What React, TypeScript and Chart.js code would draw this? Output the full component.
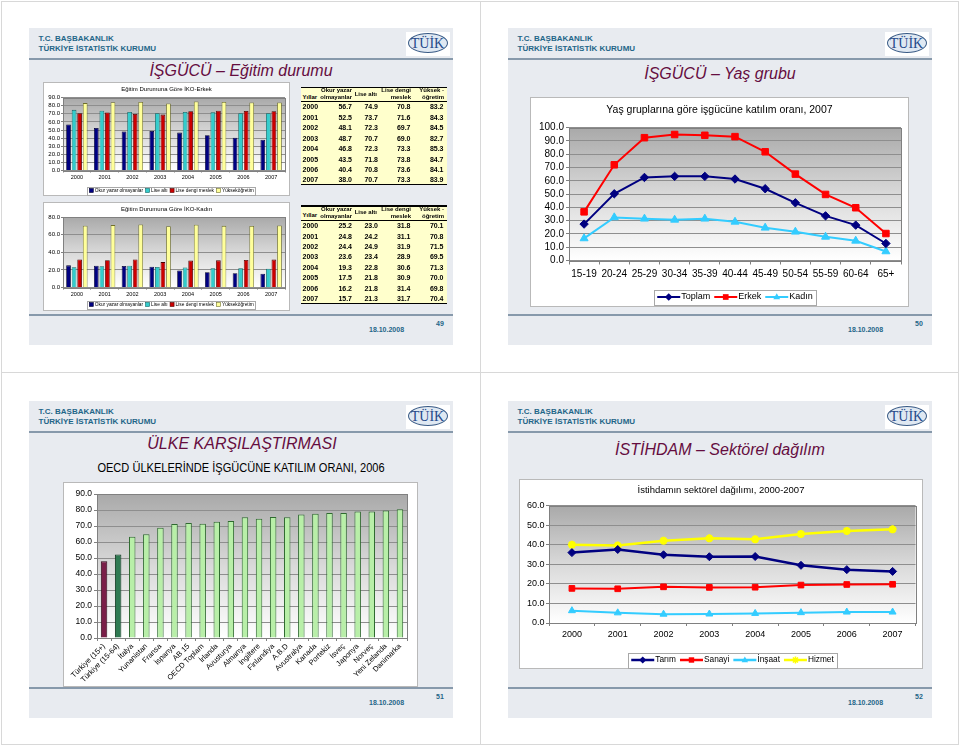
import React, { useEffect, useRef } from 'react';
import { Chart, registerables } from 'chart.js';

Chart.register(...registerables);

const SANS = "'Liberation Sans', Arial, Helvetica, sans-serif";
const SERIF = "'Liberation Serif', 'Times New Roman', serif";

// ---------------- data ----------------
const years = ['2000', '2001', '2002', '2003', '2004', '2005', '2006', '2007'];
const eduLevels = ['Okur yazar olmayanlar', 'Lise altı', 'Lise dengi meslek', 'Yükseköğretim'];

const maleIlliterate = [56.7, 52.5, 48.1, 48.7, 46.8, 43.5, 40.4, 38.0];
const maleBelowHigh = [74.9, 73.7, 72.3, 70.7, 72.3, 71.8, 70.8, 70.7];
const maleVocational = [70.8, 71.6, 69.7, 69.0, 73.3, 73.8, 73.6, 73.3];
const maleHigher = [83.2, 84.3, 84.5, 82.7, 85.3, 84.7, 84.1, 83.9];

const femaleIlliterate = [25.2, 24.8, 24.4, 23.6, 19.3, 17.5, 16.2, 15.7];
const femaleBelowHigh = [23.0, 24.2, 24.9, 23.4, 22.8, 21.8, 21.8, 21.3];
const femaleVocational = [31.8, 31.1, 31.9, 28.9, 30.6, 30.9, 31.4, 31.7];
const femaleHigher = [70.1, 70.8, 71.5, 69.5, 71.3, 70.0, 69.8, 70.4];

const ageGroups = ['15-19', '20-24', '25-29', '30-34', '35-39', '40-44', '45-49', '50-54', '55-59', '60-64', '65+'];
const ageSeries = ['Toplam', 'Erkek', 'Kadın'];
const ageTotal = [27.4, 50.2, 62.5, 63.3, 63.3, 61.3, 54.0, 43.4, 33.6, 26.6, 12.8];
const ageMale = [36.6, 72.0, 92.4, 94.8, 94.2, 93.2, 81.8, 65.0, 49.7, 39.7, 20.3];
const ageFemale = [16.6, 32.4, 31.4, 30.6, 31.4, 29.1, 24.6, 21.6, 17.8, 14.8, 6.8];

const countries = ['Türkiye (15+)', 'Türkiye (15-64)', 'İtalya', 'Yunanistan', 'Fransa', 'İspanya', 'AB 15', 'OECD Toplam', 'İrlanda', 'Avusturya', 'Almanya', 'İngiltere', 'Finlandiya', 'A.B.D', 'Avustralya', 'Kanada', 'Portekiz', 'İsveç', 'Japonya', 'Norveç', 'Yeni Zelanda', 'Danimarka'];
const participation = [48.0, 52.2, 63.3, 64.9, 68.9, 71.2, 71.8, 71.4, 72.7, 73.2, 75.4, 74.5, 75.7, 75.4, 77.2, 77.7, 78.2, 78.2, 79.1, 79.1, 79.7, 80.5];

const sectorSeries = ['Tarım', 'Sanayi', 'İnşaat', 'Hizmet'];
const agriculture = [36.0, 37.6, 34.9, 33.9, 34.0, 29.5, 27.3, 26.4];
const industry = [17.7, 17.5, 18.5, 18.2, 18.3, 19.4, 19.7, 19.8];
const construction = [6.3, 5.2, 4.5, 4.6, 4.9, 5.3, 5.6, 5.6];
const services = [40.0, 39.6, 42.1, 43.3, 42.8, 45.5, 47.1, 47.9];

const orgLine1 = 'T.C. BAŞBAKANLIK';
const orgLine2 = 'TÜRKİYE İSTATİSTİK KURUMU';
const slideDate = '18.10.2008';
const tableHead = { year: 'Yıllar', c1: ['Okur yazar', 'olmayanlar'], c2: 'Lise altı', c3: ['Lise dengi', 'meslek'], c4: ['Yüksek -', 'öğretim'] };

// ---------------- styles ----------------
const eduColors = ['#000080', '#33cccc', '#cc0000', '#ffff99'];
const eduBorders = ['#00002e', '#116666', '#4a0000', '#6f6f2a'];
const HEAD_COLOR = '#1f6688';
const TITLE_COLOR = '#650d3f';

type LegendItem = { label: string; kind: 'box' | 'line'; color: string; border?: string; marker?: string };
type LegendCfg = { items: LegendItem[]; cx: number; cy: number; size: number; boxH: number; symW: number; gap: number; itemGap: number; pad: number; lineW?: number; markerR?: number };
type DecorCfg = { W: number; H: number; title?: { text: string; y: number; size: number }; legend?: LegendCfg };
type Geo = { x: number; y: number; W: number; H: number; l: number; t: number; r: number; b: number };

function drawMarker(ctx: CanvasRenderingContext2D, style: string, x: number, y: number, r: number, color: string) {
  ctx.save();
  ctx.fillStyle = color;
  ctx.strokeStyle = color;
  ctx.beginPath();
  if (style === 'rectRot') {
    ctx.moveTo(x, y - r); ctx.lineTo(x + r, y); ctx.lineTo(x, y + r); ctx.lineTo(x - r, y); ctx.closePath(); ctx.fill();
  } else if (style === 'rect') {
    const s = r * 0.75; ctx.rect(x - s, y - s, 2 * s, 2 * s); ctx.fill();
  } else if (style === 'triangle') {
    ctx.moveTo(x, y - r); ctx.lineTo(x + r * 0.9, y + r * 0.6); ctx.lineTo(x - r * 0.9, y + r * 0.6); ctx.closePath(); ctx.fill();
  } else if (style === 'star') {
    ctx.lineWidth = 1.6;
    for (let k = 0; k < 4; k++) {
      const a = (k * Math.PI) / 4;
      ctx.moveTo(x - r * Math.cos(a), y - r * Math.sin(a));
      ctx.lineTo(x + r * Math.cos(a), y + r * Math.sin(a));
    }
    ctx.stroke();
  }
  ctx.restore();
}

function drawLegend(ctx: CanvasRenderingContext2D, lg: LegendCfg) {
  ctx.save();
  ctx.font = `${lg.size}px ${SANS}`;
  ctx.textBaseline = 'middle';
  ctx.textAlign = 'left';
  const widths = lg.items.map((it) => lg.symW + lg.gap + ctx.measureText(it.label).width);
  const total = widths.reduce((a, b) => a + b, 0) + lg.itemGap * (lg.items.length - 1);
  const x0 = lg.cx - total / 2;
  const bx = Math.round(x0 - lg.pad) + 0.5;
  const by = Math.round(lg.cy - lg.boxH / 2) + 0.5;
  const bw = Math.round(total + 2 * lg.pad);
  const bh = Math.round(lg.boxH);
  ctx.fillStyle = '#ffffff';
  ctx.fillRect(bx, by, bw, bh);
  ctx.strokeStyle = '#a8a8a8';
  ctx.lineWidth = 1;
  ctx.strokeRect(bx, by, bw, bh);
  let x = x0;
  lg.items.forEach((it, i) => {
    if (it.kind === 'box') {
      const s = lg.symW;
      ctx.fillStyle = it.color;
      ctx.fillRect(x, lg.cy - s / 2, s, s);
      ctx.strokeStyle = it.border || '#000';
      ctx.lineWidth = 0.6;
      ctx.strokeRect(x, lg.cy - s / 2, s, s);
    } else {
      ctx.strokeStyle = it.color;
      ctx.lineWidth = lg.lineW || 2;
      ctx.beginPath();
      ctx.moveTo(x, lg.cy);
      ctx.lineTo(x + lg.symW, lg.cy);
      ctx.stroke();
      drawMarker(ctx, it.marker || 'rect', x + lg.symW / 2, lg.cy, lg.markerR || 4, it.color);
    }
    ctx.fillStyle = '#000';
    ctx.fillText(it.label, x + lg.symW + lg.gap, lg.cy);
    x += widths[i] + lg.itemGap;
  });
  ctx.restore();
}

function decor(cfg: DecorCfg) {
  return {
    id: 'decor',
    beforeDraw(chart: any) {
      const ctx = chart.ctx as CanvasRenderingContext2D;
      const a = chart.chartArea;
      ctx.save();
      ctx.fillStyle = '#ffffff';
      ctx.fillRect(0, 0, cfg.W, cfg.H);
      ctx.strokeStyle = '#b9b9b9';
      ctx.lineWidth = 1;
      ctx.strokeRect(0.5, 0.5, cfg.W - 1, cfg.H - 1);
      const g = ctx.createLinearGradient(0, a.top, 0, a.bottom);
      g.addColorStop(0, '#a9a9a9');
      g.addColorStop(0.5, '#d9d9d9');
      g.addColorStop(1, '#ffffff');
      ctx.fillStyle = g;
      ctx.fillRect(a.left, a.top, a.right - a.left, a.bottom - a.top);
      ctx.restore();
    },
    beforeDatasetsDraw(chart: any) {
      const ctx = chart.ctx as CanvasRenderingContext2D;
      const a = chart.chartArea;
      ctx.save();
      ctx.strokeStyle = '#808080';
      ctx.lineWidth = 1;
      ctx.strokeRect(Math.round(a.left) + 0.5, Math.round(a.top) + 0.5, Math.round(a.right) - Math.round(a.left), Math.round(a.bottom) - Math.round(a.top));
      ctx.restore();
    },
    afterDraw(chart: any) {
      const ctx = chart.ctx as CanvasRenderingContext2D;
      if (cfg.title) {
        ctx.save();
        ctx.font = `${cfg.title.size}px ${SANS}`;
        ctx.fillStyle = '#000';
        ctx.textAlign = 'center';
        ctx.textBaseline = 'middle';
        ctx.fillText(cfg.title.text, cfg.W / 2, cfg.title.y);
        ctx.restore();
      }
      if (cfg.legend) drawLegend(ctx, cfg.legend);
    },
  };
}

const fmt1 = (v: any) => Number(v).toFixed(1);

function valAxis(max: number, step: number, size: number, tickLen: number, pad: number, width: number) {
  return {
    min: 0,
    max,
    ticks: { stepSize: step, autoSkip: false, font: { family: SANS, size }, color: '#000', padding: pad, callback: fmt1 },
    grid: { color: '#8e8e8e', lineWidth: 1, drawTicks: true, tickLength: tickLen, tickColor: '#808080' },
    border: { display: false },
    afterFit: (s: any) => { s.width = width; },
  };
}

function catAxis(size: number, tickLen: number, pad: number, height: number, rot = 0) {
  return {
    offset: true,
    ticks: { font: { family: SANS, size }, color: '#000', padding: pad, autoSkip: false, maxRotation: rot, minRotation: rot },
    grid: { display: true, offset: true, drawOnChartArea: false, drawTicks: true, tickLength: tickLen, color: '#808080' },
    border: { display: false },
    afterFit: (s: any) => { s.height = height; },
  };
}

function baseOptions(g: Geo, xH: number) {
  return {
    responsive: false,
    animation: false,
    devicePixelRatio: 1,
    events: [],
    layout: { padding: { left: 0, top: g.t, right: g.W - g.r, bottom: g.H - g.b - xH } },
    plugins: { legend: { display: false }, title: { display: false }, tooltip: { enabled: false } },
  };
}

const eduLegendItems: LegendItem[] = eduLevels.map((label, i) => ({ label, kind: 'box', color: eduColors[i], border: eduBorders[i] }));

function eduConfig(series: number[][], yMax: number, yStep: number, title: string, g: Geo, titleY: number, legendCy: number) {
  const xH = 14;
  return {
    type: 'bar',
    data: {
      labels: years,
      datasets: eduLevels.map((label, i) => ({
        label,
        data: series[i],
        backgroundColor: eduColors[i],
        borderColor: eduBorders[i],
        borderWidth: 0.8,
        categoryPercentage: 0.8,
        barPercentage: 0.85,
      })),
    },
    options: {
      ...baseOptions(g, xH),
      scales: { x: catAxis(5.5, 2, 1.5, xH), y: valAxis(yMax, yStep, 6, 2, 1, g.l) },
    },
    plugins: [decor({ W: g.W, H: g.H, title: { text: title, y: titleY, size: 6 }, legend: { items: eduLegendItems, cx: 128.5, cy: legendCy, size: 4.8, boxH: 8, symW: 4, gap: 1.5, itemGap: 2.5, pad: 2 } })],
  };
}

const geoMale: Geo = { x: 43, y: 82, W: 247, H: 114, l: 20, t: 15.6, r: 242, b: 88.5 };
const geoFemale: Geo = { x: 43, y: 202, W: 247, H: 109, l: 20, t: 15, r: 242, b: 85.6 };
const geoAge: Geo = { x: 530, y: 97, W: 379, H: 210, l: 39, t: 30.6, r: 371, b: 163.5 };
const geoOecd: Geo = { x: 63, y: 482, W: 355, H: 205, l: 34, t: 12, r: 344, b: 156 };
const geoSector: Geo = { x: 519, y: 479, W: 404, H: 190, l: 30, t: 26.7, r: 396.5, b: 144 };

function ageConfig() {
  const g = geoAge;
  const xH = 22;
  const colors = ['#000080', '#ff0000', '#33ccff'];
  const markers = ['rectRot', 'rect', 'triangle'];
  const radii = [4.2, 4.6, 4.6];
  const values = [ageTotal, ageMale, ageFemale];
  return {
    type: 'line',
    data: {
      labels: ageGroups,
      datasets: ageSeries.map((label, i) => ({
        label,
        data: values[i],
        borderColor: colors[i],
        backgroundColor: colors[i],
        borderWidth: 2,
        pointStyle: markers[i],
        pointRadius: radii[i],
        pointBorderWidth: 1,
        tension: 0,
      })),
    },
    options: {
      ...baseOptions(g, xH),
      scales: { x: catAxis(10, 4, 3.5, xH), y: valAxis(100, 10, 10, 3, 2, g.l) },
    },
    plugins: [decor({
      W: g.W, H: g.H,
      title: { text: 'Yaş gruplarına göre işgücüne katılım oranı, 2007', y: 13, size: 10.5 },
      legend: { items: ageSeries.map((label, i) => ({ label, kind: 'line', color: colors[i], marker: markers[i] })), cx: 205, cy: 200, size: 9, boxH: 15, symW: 23, gap: 1, itemGap: 4, pad: 3, lineW: 2, markerR: 3.8 },
    })],
  };
}

function oecdConfig() {
  const g = geoOecd;
  const xH = 48;
  const fills = countries.map((_, i) => (i === 0 ? '#7a1e48' : i === 1 ? '#2f7a52' : '#b8efa8'));
  const borders = countries.map((_, i) => (i === 0 ? '#2e0818' : i === 1 ? '#123822' : '#2f6a30'));
  return {
    type: 'bar',
    data: {
      labels: countries,
      datasets: [{ label: 'İşgücüne katılım oranı', data: participation, backgroundColor: fills, borderColor: borders, borderWidth: 1, categoryPercentage: 0.5, barPercentage: 0.92 }],
    },
    options: {
      ...baseOptions(g, xH),
      scales: { x: catAxis(7.5, 3, 1, xH, 45), y: valAxis(90, 10, 8.5, 3, 2, g.l) },
    },
    plugins: [decor({ W: g.W, H: g.H })],
  };
}

function sectorConfig() {
  const g = geoSector;
  const xH = 22;
  const colors = ['#000080', '#ff0000', '#33ccff', '#ffff00'];
  const markers = ['rectRot', 'rect', 'triangle', 'star'];
  const values = [agriculture, industry, construction, services];
  return {
    type: 'line',
    data: {
      labels: years,
      datasets: sectorSeries.map((label, i) => ({
        label,
        data: values[i],
        borderColor: colors[i],
        backgroundColor: colors[i],
        borderWidth: i === 0 || i === 3 ? 2.5 : 2,
        pointStyle: markers[i],
        pointRadius: 4,
        pointBorderWidth: i === 3 ? 2.5 : 1,
        tension: 0,
      })),
    },
    options: {
      ...baseOptions(g, xH),
      scales: { x: catAxis(9, 3, 3.5, xH), y: valAxis(60, 10, 9, 3, 1.5, g.l) },
    },
    plugins: [decor({
      W: g.W, H: g.H,
      title: { text: 'İstihdamın sektörel dağılımı, 2000-2007', y: 11.5, size: 9.5 },
      legend: { items: sectorSeries.map((label, i) => ({ label, kind: 'line', color: colors[i], marker: markers[i] })), cx: 213.5, cy: 181, size: 8.3, boxH: 15, symW: 23, gap: 1, itemGap: 4, pad: 3, lineW: 2.5, markerR: 3.6 },
    })],
  };
}

function ChartCanvas({ g, make }: { g: Geo; make: () => any }) {
  const ref = useRef<HTMLCanvasElement>(null);
  useEffect(() => {
    const chart = new Chart(ref.current as HTMLCanvasElement, make());
    return () => chart.destroy();
  }, []);
  return <canvas ref={ref} width={g.W} height={g.H} style={{ position: 'absolute', left: g.x, top: g.y, width: g.W, height: g.H }} />;
}

// ---------------- HTML text helpers ----------------
function T(props: { x: number; y: number; size: number; children: any; weight?: string; italic?: boolean; color?: string; align?: 'left' | 'center' | 'right'; family?: string; scaleX?: number }) {
  const { x, y, size, children, weight = 'normal', italic = false, color = '#000', align = 'left', family = SANS, scaleX = 1 } = props;
  const w = 600;
  const left = align === 'center' ? x - w / 2 : align === 'right' ? x - w : x;
  return (
    <div style={{
      position: 'absolute', left, top: y - size, width: w, height: size * 2, lineHeight: `${size * 2}px`,
      fontSize: size, fontFamily: family, fontWeight: weight as any, fontStyle: italic ? 'italic' : 'normal', color,
      textAlign: align, whiteSpace: 'nowrap',
      transform: scaleX !== 1 ? `scaleX(${scaleX})` : undefined,
      transformOrigin: align === 'center' ? '50% 50%' : align === 'right' ? '100% 50%' : '0 50%',
    }}>{children}</div>
  );
}

function Logo() {
  return (
    <div style={{ position: 'absolute', left: 377, top: 3.5, width: 44, height: 24, background: '#ffffff' }}>
      <div style={{ position: 'absolute', left: 1.5, top: 1.5, width: 38, height: 18, borderRadius: '50%', border: '1.3px solid #3a5b86', background: '#dfe8f2' }} />
      <div style={{ position: 'absolute', left: 0, top: 0, width: 43, height: 23, lineHeight: '23px', textAlign: 'center', fontFamily: SERIF, fontSize: 14, color: '#24488a' }}>TÜİK</div>
    </div>
  );
}

function Slide({ x, y, page, children }: { x: number; y: number; page: string; children?: any }) {
  return (
    <div style={{ position: 'absolute', left: x, top: y, width: 424, height: 317, background: '#e8ebf0' }}>
      <T x={9.6} y={11} size={8} weight="bold" color={HEAD_COLOR}>{orgLine1}</T>
      <T x={9.6} y={21} size={8} weight="bold" color={HEAD_COLOR}>{orgLine2}</T>
      <Logo />
      <div style={{ position: 'absolute', left: 0, top: 29.5, width: 424, height: 2, background: '#8799ab' }} />
      <div style={{ position: 'absolute', left: 0, top: 285.5, width: 424, height: 2, background: '#8799ab' }} />
      <T x={340} y={302} size={7} weight="bold" color={HEAD_COLOR}>{slideDate}</T>
      <T x={407} y={296} size={7} weight="bold" color={HEAD_COLOR}>{page}</T>
      {children}
    </div>
  );
}

function EduTable({ top, cols }: { top: number; cols: number[][] }) {
  const L = 301, W = 146;
  const rowY = (i: number) => top + 20.4 + i * 10.42;
  const rights = [352, 378, 410.5, 443.5];
  return (
    <>
      <div style={{ position: 'absolute', left: L, top, width: W, height: 97.5, background: '#ffffcc' }} />
      <div style={{ position: 'absolute', left: L, top: top - 0.5, width: W, height: 1.6, background: '#000' }} />
      <div style={{ position: 'absolute', left: L, top: top + 14.3, width: W, height: 1, background: '#000' }} />
      <div style={{ position: 'absolute', left: L, top: top + 97, width: W, height: 1, background: '#000' }} />
      <T x={302.5} y={top + 9.7} size={6} weight="bold">{tableHead.year}</T>
      <T x={352} y={top + 3.4} size={6} weight="bold" align="right">{tableHead.c1[0]}</T>
      <T x={352} y={top + 9.8} size={6} weight="bold" align="right">{tableHead.c1[1]}</T>
      <T x={377} y={top + 6.6} size={6} weight="bold" align="right">{tableHead.c2}</T>
      <T x={411} y={top + 3.4} size={6} weight="bold" align="right">{tableHead.c3[0]}</T>
      <T x={411} y={top + 9.8} size={6} weight="bold" align="right">{tableHead.c3[1]}</T>
      <T x={444} y={top + 3.4} size={6} weight="bold" align="right">{tableHead.c4[0]}</T>
      <T x={444} y={top + 9.8} size={6} weight="bold" align="right">{tableHead.c4[1]}</T>
      {years.map((yr, i) => (
        <React.Fragment key={yr}>
          <T x={302.5} y={rowY(i)} size={7} weight="bold">{yr}</T>
          {cols.map((c, j) => (
            <T key={j} x={rights[j]} y={rowY(i)} size={7} weight="bold" align="right">{c[i].toFixed(1)}</T>
          ))}
        </React.Fragment>
      ))}
    </>
  );
}

const maleCols = [maleIlliterate, maleBelowHigh, maleVocational, maleHigher];
const femaleCols = [femaleIlliterate, femaleBelowHigh, femaleVocational, femaleHigher];

export default function App() {
  return (
    <div style={{ position: 'absolute', left: 0, top: 0, width: 960, height: 746, background: '#ffffff', overflow: 'hidden', fontFamily: SANS }}>
      <div style={{ position: 'absolute', left: 1, top: 1, width: 956, height: 742, border: '1px solid #d8d8d8' }} />
      <div style={{ position: 'absolute', left: 480, top: 1, width: 1, height: 744, background: '#d8d8d8' }} />
      <div style={{ position: 'absolute', left: 1, top: 372, width: 958, height: 1, background: '#d8d8d8' }} />

      <Slide x={29} y={28} page="49">
        <T x={212} y={42.5} size={16} italic color={TITLE_COLOR} align="center">İŞGÜCÜ – Eğitim durumu</T>
      </Slide>
      <Slide x={508} y={28} page="50">
        <T x={212} y={46} size={16} italic color={TITLE_COLOR} align="center">İŞGÜCÜ – Yaş grubu</T>
      </Slide>
      <Slide x={29} y={401} page="51">
        <T x={213} y={43} size={16} italic color={TITLE_COLOR} align="center">ÜLKE KARŞILAŞTIRMASI</T>
        <T x={212} y={66.6} size={13} color="#000" align="center" scaleX={0.85}>OECD ÜLKELERİNDE İŞGÜCÜNE KATILIM ORANI, 2006</T>
      </Slide>
      <Slide x={508} y={401} page="52">
        <T x={212} y={48.5} size={16} italic color={TITLE_COLOR} align="center">İSTİHDAM – Sektörel dağılım</T>
      </Slide>

      <ChartCanvas g={geoMale} make={() => eduConfig(maleCols, 90, 10, 'Eğitim Durumuna Göre İKO-Erkek', geoMale, 7, 108.5)} />
      <ChartCanvas g={geoFemale} make={() => eduConfig(femaleCols, 80, 20, 'Eğitim Durumuna Göre İKO-Kadın', geoFemale, 7.5, 102.5)} />
      <EduTable top={87} cols={maleCols} />
      <EduTable top={205.7} cols={femaleCols} />

      <ChartCanvas g={geoAge} make={ageConfig} />
      <ChartCanvas g={geoOecd} make={oecdConfig} />
      <ChartCanvas g={geoSector} make={sectorConfig} />
    </div>
  );
}
